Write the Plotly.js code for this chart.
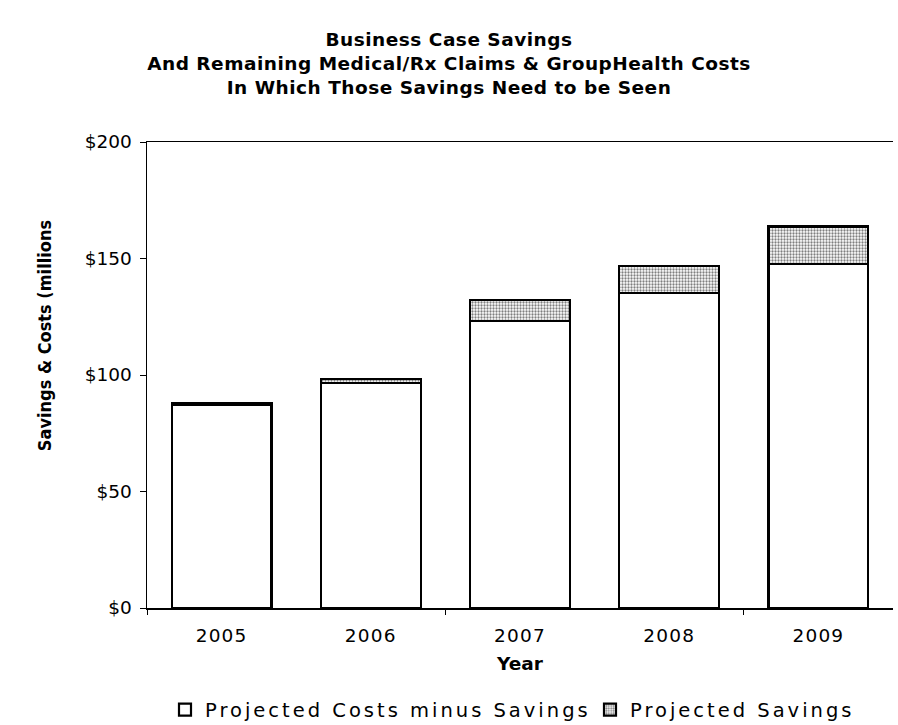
<!DOCTYPE html>
<html>
<head>
<meta charset="utf-8">
<script src="https://cdn.plot.ly/plotly-3.0.1.min.js"></script>
<style>
html,body{margin:0;padding:0;background:#fff;}
#chart{width:898px;height:725px;}
#chart .xtick text{letter-spacing:1.2px;}
#chart .gtitle{letter-spacing:0.5px;}
#chart .infolayer g[class^="legend"] text{letter-spacing:3px;}
</style>
</head>
<body>
<div id="chart"></div>
<script>
const years = ["2005", "2006", "2007", "2008", "2009"];
const costsMinusSavings = [87, 96.5, 123.3, 135.1, 147.6];
const projectedSavings = [1, 1.8, 8.9, 11.7, 16.1];
const yTickVals = [0, 50, 100, 150, 200];
const yTickText = ["$0", "$50", "$100", "$150", "$200"];
const seriesNames = ["Projected Costs minus Savings", "Projected Savings"];
const titleText = "<b>Business Case Savings<br>And Remaining Medical/Rx Claims &amp; GroupHealth Costs<br>In Which Those Savings Need to be Seen</b>";
const yTitle = "<b>Savings &amp; Costs (millions</b>";
const xTitle = "<b>Year</b>";

const font = "DejaVu Sans, Verdana, sans-serif";

const traces = [
  {
    type: "bar", x: years, y: costsMinusSavings, name: seriesNames[0], legend: "legend",
    marker: {color: "#ffffff", line: {color: "#000", width: 2.2}},
    hoverinfo: "skip"
  },
  {
    type: "bar", x: years, y: projectedSavings, name: seriesNames[1], legend: "legend2",
    marker: {color: "#ffffff", line: {color: "#000", width: 2.2},
      pattern: {shape: ".", fgcolor: "#000", bgcolor: "#ffffff", size: 3, solidity: 0.45, fillmode: "overlay"}},
    hoverinfo: "skip"
  },
  {
    type: "scatter", x: [0], y: [0], xaxis: "x2", mode: "markers",
    marker: {opacity: 0}, showlegend: false, hoverinfo: "skip"
  }
];

const legendCommon = {orientation: "h", xref: "container", yref: "container", xanchor: "left",
  y: 1 - 710/725, yanchor: "middle", font: {family: font, size: 19.5, color: "#000"},
  itemwidth: 30, bgcolor: "rgba(0,0,0,0)"};

const layout = {
  width: 898, height: 725,
  paper_bgcolor: "#fff", plot_bgcolor: "#fff",
  margin: {l: 147, r: 5, t: 142, b: 117},
  barmode: "stack", bargap: 0.33,
  font: {family: font, color: "#000", size: 18},
  title: {text: titleText, font: {family: font, size: 18.5, color: "#000"},
    x: 0.5, xref: "container", xanchor: "center", y: 1 - 46/725, yref: "container", yanchor: "middle"},
  xaxis: {
    type: "category", showline: true, linecolor: "#000", linewidth: 1.5,
    mirror: true, ticks: "", showgrid: false, zeroline: false,
    tickfont: {family: font, size: 18.5, color: "#000"},
    ticklabelstandoff: 10,
    title: {text: xTitle, font: {family: font, size: 18.5, color: "#000"}, standoff: 12}
  },
  xaxis2: {
    overlaying: "x", type: "linear", range: [-0.5, 4.5], side: "bottom",
    tickmode: "array", tickvals: [-0.5, 1.5, 3.5], ticks: "outside", ticklen: 6,
    tickcolor: "#000", tickwidth: 1, showticklabels: false, showgrid: false,
    zeroline: false, showline: false
  },
  yaxis: {
    range: [0, 200], tickmode: "array", tickvals: yTickVals, ticktext: yTickText,
    showline: true, linecolor: "#000", linewidth: 1.5,
    ticks: "outside", ticklen: 6, tickcolor: "#000", showgrid: false, zeroline: false,
    tickfont: {family: font, size: 18.5, color: "#000"}, ticklabelstandoff: 4
  },
  showlegend: true,
  legend: Object.assign({}, legendCommon, {x: 165/898}),
  legend2: Object.assign({}, legendCommon, {x: 590/898}),
  annotations: [{
    text: yTitle, textangle: -90, xref: "paper", yref: "paper",
    x: -0.137, y: 0.585, xanchor: "center", yanchor: "middle", showarrow: false,
    font: {family: "DejaVu Sans Condensed, DejaVu Sans, sans-serif", size: 18, color: "#000"}
  }]
};

function unclipLegends(gd) {
  gd.querySelectorAll('.infolayer g[class^="legend"]').forEach(function (g) {
    if (g.removeAttribute) g.removeAttribute("clip-path");
    g.querySelectorAll("[clip-path]").forEach(function (el) { el.removeAttribute("clip-path"); });
    g.querySelectorAll("text").forEach(function (t) { t.style.letterSpacing = "3px"; });
  });
}

Plotly.newPlot("chart", traces, layout, {staticPlot: true, displayModeBar: false}).then(function (gd) {
  unclipLegends(gd);
  setTimeout(function () { unclipLegends(gd); }, 50);
});
</script>
</body>
</html>
